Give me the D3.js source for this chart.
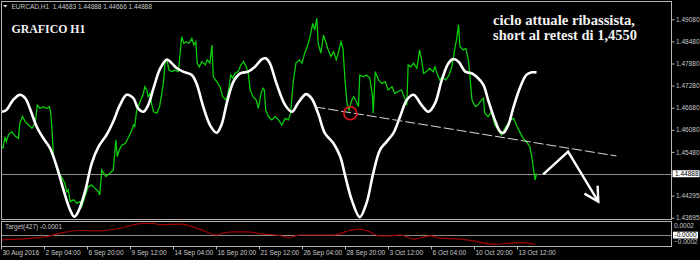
<!DOCTYPE html>
<html>
<head>
<meta charset="utf-8">
<script src="https://cdn.jsdelivr.net/npm/d3@7"></script>
<style>
    body { margin: 0; background: #000; }
    svg { display: block; }
    text { font-family: "Liberation Sans", Arial, sans-serif; }
</style>
</head>
<body>
<svg id="chart" width="700" height="260"></svg>
<script>
// Price axis labels and the last close
const priceTicks = [1.49080, 1.48480, 1.47880, 1.47280, 1.46680, 1.46080, 1.45480, 1.44295, 1.43695];
const lastClose = 1.44888;
const ohlc = [1.44683, 1.44888, 1.44666, 1.44888];

// Time labels, one every 64 H1 bars
const timeLabels = ['30 Aug 2016', '2 Sep 04:00', '6 Sep 20:00', '9 Sep 12:00', '14 Sep 04:00', '16 Sep 20:00',
    '21 Sep 12:00', '26 Sep 04:00', '28 Sep 20:00', '3 Oct 12:00', '6 Oct 04:00', '10 Oct 20:00', '13 Oct 12:00'];
const barsPerLabel = 64;

// EURCAD H1 close, [bar, price]
const closes = [
    [1, 1.4562], [3, 1.4559], [6, 1.4589], [8, 1.4576], [11, 1.4594], [16, 1.4603], [21, 1.4591], [26, 1.4585],
    [28, 1.4626], [32, 1.4644], [36, 1.4630], [41, 1.4621], [46, 1.4612], [51, 1.4626], [54, 1.4675], [58, 1.4666],
    [63, 1.4671], [68, 1.4666], [72, 1.4671], [74, 1.4653], [76, 1.4608], [78, 1.4535], [82, 1.4508], [85, 1.4490],
    [90, 1.4481], [95, 1.4463], [98, 1.4440], [100, 1.4445], [103, 1.4413], [108, 1.4418], [113, 1.4409], [118, 1.4413],
    [120, 1.4399], [125, 1.4427], [130, 1.4454], [135, 1.4458], [140, 1.4449], [145, 1.4440], [147, 1.4431], [150, 1.4499],
    [153, 1.4490], [156, 1.4481], [162, 1.4490], [167, 1.4499], [171, 1.4580], [173, 1.4535], [176, 1.4553], [180, 1.4567],
    [185, 1.4571], [189, 1.4585], [195, 1.4608], [197, 1.4621], [199, 1.4617], [202, 1.4662], [207, 1.4684], [212, 1.4707],
    [214, 1.4725], [217, 1.4716], [219, 1.4698], [222, 1.4707], [224, 1.4680], [227, 1.4657], [232, 1.4653], [236, 1.4671],
    [239, 1.4703], [242, 1.4739], [244, 1.4789], [247, 1.4798], [250, 1.4770], [254, 1.4766], [259, 1.4770], [264, 1.4766],
    [269, 1.4861], [272, 1.4843], [276, 1.4847], [280, 1.4843], [284, 1.4856], [287, 1.4838], [290, 1.4847], [292, 1.4789],
    [295, 1.4779], [299, 1.4793], [304, 1.4784], [307, 1.4798], [311, 1.4789], [314, 1.4838], [316, 1.4752], [321, 1.4739],
    [326, 1.4725], [330, 1.4698], [335, 1.4689], [338, 1.4707], [342, 1.4757], [345, 1.4748], [348, 1.4761], [353, 1.4766],
    [357, 1.4784], [361, 1.4793], [365, 1.4779], [368, 1.4761], [371, 1.4716], [375, 1.4698], [380, 1.4689], [383, 1.4666],
    [387, 1.4707], [390, 1.4721], [392, 1.4716], [394, 1.4662], [398, 1.4644], [403, 1.4635], [408, 1.4644], [413, 1.4635],
    [418, 1.4621], [423, 1.4639], [428, 1.4635], [431, 1.4653], [435, 1.4739], [439, 1.4789], [444, 1.4798], [448, 1.4789],
    [452, 1.4816], [456, 1.4834], [460, 1.4861], [464, 1.4897], [467, 1.4879], [470, 1.4911], [472, 1.4843], [476, 1.4816],
    [480, 1.4865], [484, 1.4843], [487, 1.4825], [491, 1.4807], [495, 1.4820], [499, 1.4798], [502, 1.4816], [506, 1.4847],
    [509, 1.4829], [512, 1.4743], [515, 1.4680], [518, 1.4662], [522, 1.4689], [525, 1.4698], [529, 1.4684], [532, 1.4671],
    [534, 1.4757], [539, 1.4752], [544, 1.4757], [549, 1.4748], [553, 1.4698], [554, 1.4653], [557, 1.4766], [562, 1.4743],
    [567, 1.4734], [572, 1.4739], [576, 1.4716], [582, 1.4725], [586, 1.4707], [591, 1.4712], [596, 1.4716], [601, 1.4694],
    [604, 1.4675], [606, 1.4784], [610, 1.4779], [614, 1.4789], [619, 1.4775], [623, 1.4825], [626, 1.4798], [629, 1.4761],
    [633, 1.4766], [638, 1.4775], [643, 1.4766], [646, 1.4779], [649, 1.4761], [653, 1.4743], [657, 1.4752], [662, 1.4743],
    [667, 1.4757], [671, 1.4779], [676, 1.4834], [678, 1.4852], [681, 1.4893], [683, 1.4834], [688, 1.4825], [692, 1.4829],
    [696, 1.4793], [698, 1.4752], [701, 1.4689], [706, 1.4671], [710, 1.4675], [713, 1.4684], [718, 1.4694], [720, 1.4653],
    [725, 1.4644], [730, 1.4657], [735, 1.4621], [740, 1.4608], [745, 1.4594], [750, 1.4612], [758, 1.4635], [763, 1.4639],
    [768, 1.4617], [773, 1.4599], [777, 1.4585], [782, 1.4576], [787, 1.4562], [790, 1.4535], [792, 1.4508], [795, 1.4472],
    [797, 1.4489]
];

// cycle indicator drawn over the price, [bar, price]
const cycle = [
    [1, 1.4657], [8, 1.4662], [18, 1.4689], [28, 1.4703], [36, 1.4694], [43, 1.4666], [53, 1.4617], [63, 1.4585],
    [73, 1.4558], [83, 1.4508], [93, 1.4445], [103, 1.4390], [109, 1.4372], [115, 1.4386], [125, 1.4440], [135, 1.4517],
    [145, 1.4562], [157, 1.4594], [167, 1.4630], [177, 1.4675], [187, 1.4703], [197, 1.4694], [204, 1.4666], [212, 1.4657],
    [219, 1.4675], [227, 1.4721], [237, 1.4775], [247, 1.4799], [254, 1.4789], [262, 1.4775], [271, 1.4766], [284, 1.4757],
    [291, 1.4734], [301, 1.4671], [311, 1.4621], [321, 1.4600], [328, 1.4621], [336, 1.4680], [346, 1.4739], [356, 1.4761],
    [368, 1.4766], [378, 1.4779], [388, 1.4799], [394, 1.4802], [400, 1.4789], [410, 1.4734], [423, 1.4675], [433, 1.4657],
    [442, 1.4680], [454, 1.4705], [462, 1.4694], [472, 1.4653], [482, 1.4599], [495, 1.4571], [505, 1.4535], [512, 1.4485],
    [522, 1.4418], [534, 1.4371], [544, 1.4409], [554, 1.4490], [564, 1.4553], [574, 1.4576], [584, 1.4599], [594, 1.4644],
    [604, 1.4689], [614, 1.4703], [626, 1.4675], [636, 1.4657], [646, 1.4680], [656, 1.4743], [666, 1.4789], [673, 1.4800],
    [681, 1.4793], [691, 1.4766], [701, 1.4761], [708, 1.4752], [718, 1.4730], [725, 1.4689], [735, 1.4635], [743, 1.4603],
    [748, 1.4600], [755, 1.4621], [763, 1.4671], [773, 1.4725], [782, 1.4757], [790, 1.4764], [797, 1.4764]
];

// Target(427) sub window, [bar, value]
const target = [
    [1, -0.00011], [48, -0.00007], [63, -0.00005], [88, 0.00004], [118, 0.00010], [147, 0.00009], [177, 0.00015],
    [211, 0.00026], [226, 0.00026], [237, 0.00023], [266, 0.00024], [296, 0.00013], [321, 0], [331, 0.00004],
    [346, 0.00007], [366, 0.00007], [390, 0.00002], [410, 0], [430, -0.00005], [445, 0], [475, 0], [495, 0],
    [519, 0.00010], [534, 0.00013], [549, 0.00007], [564, -0.00002], [579, -0.00002], [594, 0], [614, -0.00009],
    [639, -0.00002], [653, -0.00007], [683, -0.00009], [703, -0.00013], [733, -0.00021], [758, -0.00018],
    [777, -0.00017], [795, -0.00021]
];
const targetTicks = [0.0002, -0.0002];

// drawn annotations, [bar, price]
const trendLine = [[468, 1.4670], [916, 1.4537]];
const arrowPath = [[807, 1.4487], [844, 1.4549], [889, 1.4413]];
const retestMark = [520, 1.4653];

const svg = d3.select('#chart');
const padL = 1.5, padR = 671.5, padT = 1.5, mainBottom = 219.5, subTop = 221, subBottom = 246.5;
const frameColor = '#b4b4b4';

const x = d3.scaleLinear().domain([0, barsPerLabel]).range([1, 44]);
const y = d3.scaleLinear().domain([1.43695, 1.49080]).range([217.7, 19.3]);
const ySub = d3.scaleLinear().domain([-0.0002, 0.0002]).range([244, 226]);

svg.append('rect').attr('width', 700).attr('height', 260).attr('fill', '#000');

svg.append('clipPath').attr('id', 'mainClip')
    .append('rect').attr('x', padL).attr('y', padT).attr('width', padR - padL).attr('height', mainBottom - padT);
svg.append('clipPath').attr('id', 'subClip')
    .append('rect').attr('x', padL).attr('y', subTop).attr('width', padR - padL).attr('height', subBottom - subTop);

// last close line
svg.append('line')
    .attr('x1', padL).attr('x2', padR)
    .attr('y1', Math.round(y(lastClose)) + 0.5).attr('y2', Math.round(y(lastClose)) + 0.5)
    .attr('stroke', '#8c8c8c').attr('stroke-width', 1);

const main = svg.append('g').attr('clip-path', 'url(#mainClip)');

const priceLine = d3.line().x(d => x(d[0])).y(d => y(d[1]));
main.append('path')
    .datum(closes)
    .attr('d', priceLine)
    .attr('fill', 'none')
    .attr('stroke', '#0ad20a')
    .attr('stroke-width', 1.25);

main.append('path')
    .datum(cycle)
    .attr('d', d3.line().x(d => x(d[0])).y(d => y(d[1])).curve(d3.curveCatmullRom))
    .attr('fill', 'none')
    .attr('stroke', '#fff')
    .attr('stroke-width', 2.6);

main.append('path')
    .datum(trendLine)
    .attr('d', priceLine)
    .attr('stroke', '#d8d8d8')
    .attr('stroke-width', 1)
    .attr('stroke-dasharray', '10,3');

main.append('circle')
    .attr('cx', x(retestMark[0])).attr('cy', y(retestMark[1]))
    .attr('r', 6.5)
    .attr('fill', 'none')
    .attr('stroke', '#e8141e')
    .attr('stroke-width', 1.6);

// arrow body and head
main.append('path')
    .datum(arrowPath)
    .attr('d', priceLine)
    .attr('fill', 'none')
    .attr('stroke', '#fff')
    .attr('stroke-width', 2.4)
    .attr('stroke-linejoin', 'miter');

let tip = arrowPath[arrowPath.length - 1], prev = arrowPath[arrowPath.length - 2];
let tx = x(tip[0]), ty = y(tip[1]);
let ang = Math.atan2(ty - y(prev[1]), tx - x(prev[0]));
let headLen = 16, spread = 0.5;
main.append('path')
    .attr('d', `M${tx - headLen * Math.cos(ang - spread)},${ty - headLen * Math.sin(ang - spread)}L${tx},${ty}L${tx - headLen * Math.cos(ang + spread)},${ty - headLen * Math.sin(ang + spread)}`)
    .attr('fill', 'none')
    .attr('stroke', '#fff')
    .attr('stroke-width', 2.4);

// sub window
svg.append('line')
    .attr('x1', padL).attr('x2', padR)
    .attr('y1', Math.round(ySub(0)) + 0.5).attr('y2', Math.round(ySub(0)) + 0.5)
    .attr('stroke', '#8c8c8c');

svg.append('g').attr('clip-path', 'url(#subClip)')
    .append('path')
    .datum(target)
    .attr('d', d3.line().x(d => x(d[0])).y(d => ySub(d[1])).curve(d3.curveMonotoneX))
    .attr('fill', 'none')
    .attr('stroke', '#a00000')
    .attr('stroke-width', 1.2);

// frames
svg.append('rect')
    .attr('x', padL).attr('y', padT).attr('width', padR - padL).attr('height', mainBottom - padT)
    .attr('fill', 'none').attr('stroke', frameColor);
svg.append('rect')
    .attr('x', padL).attr('y', subTop + 0.5).attr('width', padR - padL).attr('height', subBottom - subTop - 0.5)
    .attr('fill', 'none').attr('stroke', frameColor);

// price axis
const yAxis = svg.append('g')
    .attr('transform', `translate(${padR},0)`)
    .call(d3.axisRight(y).tickValues(priceTicks).tickFormat(d3.format('.5f')).tickSize(3).tickPadding(1.5));
yAxis.select('.domain').remove();
yAxis.selectAll('line').attr('stroke', frameColor);
yAxis.selectAll('text').attr('fill', '#c8c8c8').style('font-size', '6.5px');

// last close label box
svg.append('rect')
    .attr('x', padR + 1).attr('y', y(lastClose) - 3.5).attr('width', 27).attr('height', 7)
    .attr('fill', '#fff');
svg.append('text')
    .attr('x', padR + 3.5).attr('y', y(lastClose) + 2.3)
    .attr('fill', '#000').style('font-size', '6.5px')
    .text(d3.format('.5f')(lastClose));

// sub window axis
svg.selectAll('.subTick')
    .data(targetTicks)
    .join('text')
    .attr('class', 'subTick')
    .attr('x', padR + 2.5)
    .attr('y', d => ySub(d) + (d > 0 ? 2 : -0.5))
    .attr('fill', '#c8c8c8').style('font-size', '6.5px')
    .text(d => d3.format('.4f')(d));
svg.append('rect')
    .attr('x', padR + 1.5).attr('y', ySub(0) - 3.3).attr('width', 25).attr('height', 6.8)
    .attr('fill', '#fff');
svg.append('text')
    .attr('x', padR + 3).attr('y', ySub(0) + 2.3)
    .attr('fill', '#000').style('font-size', '6.5px')
    .text('-0.0000');

svg.append('text')
    .attr('x', 5).attr('y', 229)
    .attr('fill', '#c8c8c8').style('font-size', '6.5px')
    .text('Target(427) -0.0001');

// time axis
const xAxis = svg.append('g')
    .attr('transform', `translate(0,${subBottom})`)
    .call(d3.axisBottom(x)
        .tickValues(timeLabels.map((d, i) => i * barsPerLabel))
        .tickFormat((d, i) => timeLabels[i])
        .tickSize(3).tickPadding(1));
xAxis.select('.domain').remove();
xAxis.selectAll('line').attr('stroke', frameColor);
xAxis.selectAll('text')
    .attr('text-anchor', 'start').attr('dx', 1)
    .attr('fill', '#c8c8c8').style('font-size', '6.5px');

// header
svg.append('path').attr('d', 'M3,5L7.5,5L5.25,7.5Z').attr('fill', '#d0d0d0');
svg.append('text')
    .attr('x', 11.5).attr('y', 8.5)
    .attr('fill', '#c8c8c8').style('font-size', '6.5px')
    .attr('xml:space', 'preserve')
    .text('EURCAD,H1  ' + ohlc.map(d3.format('.5f')).join(' '));

// annotations
svg.append('text')
    .attr('x', 11.5).attr('y', 33)
    .attr('fill', '#f2f2f2')
    .attr('textLength', 74).attr('lengthAdjust', 'spacingAndGlyphs')
    .style('font-family', '"Liberation Serif", serif').style('font-weight', 'bold').style('font-size', '13.5px')
    .text('GRAFICO H1');

const note = ['ciclo attuale ribassista,', 'short al retest di 1,4550'];
svg.selectAll('.note')
    .data(note)
    .join('text')
    .attr('class', 'note')
    .attr('x', 493).attr('y', (d, i) => 25 + i * 15)
    .attr('fill', '#f2f2f2')
    .attr('textLength', (d, i) => i ? 144 : 142).attr('lengthAdjust', 'spacingAndGlyphs')
    .style('font-family', '"Liberation Serif", serif').style('font-weight', 'bold').style('font-size', '14px')
    .text(d => d);
</script>
</body>
</html>
